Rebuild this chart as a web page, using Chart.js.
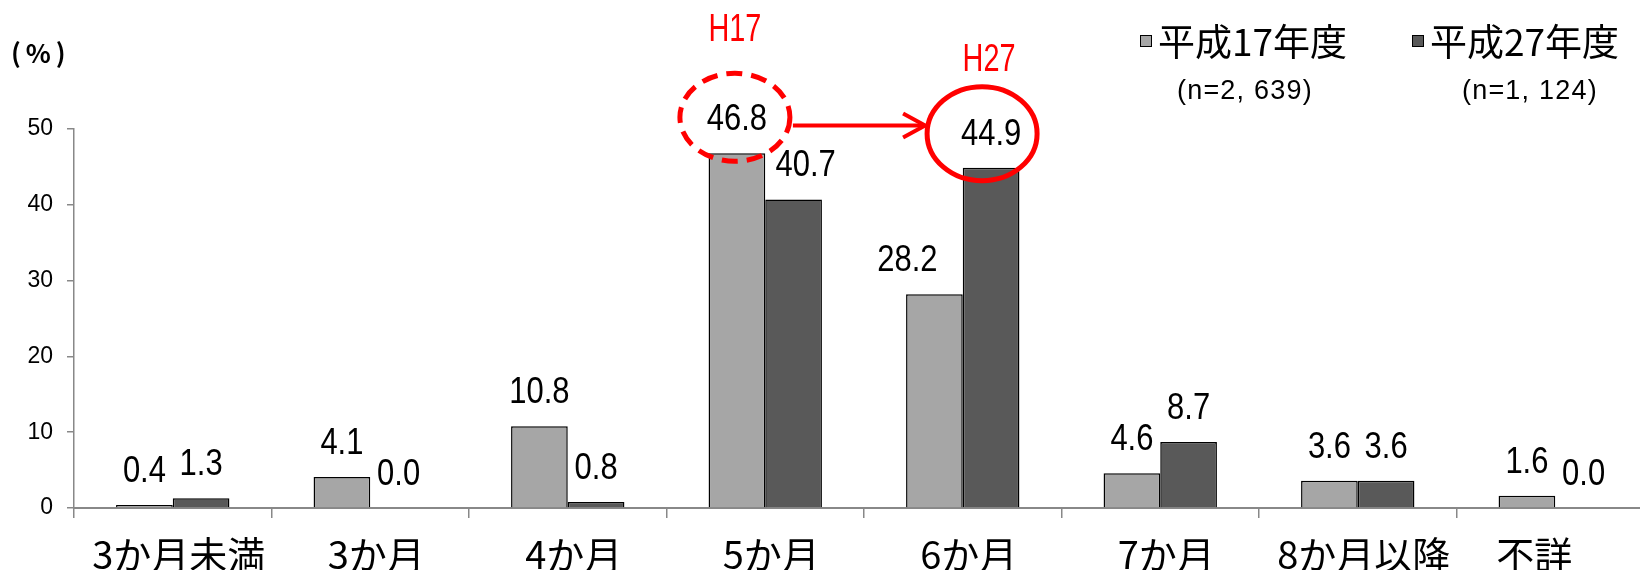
<!DOCTYPE html>
<html><head><meta charset="utf-8">
<script src="https://cdn.jsdelivr.net/npm/chart.js@4/dist/chart.umd.min.js"></script>
<style>
html,body{margin:0;padding:0;background:#fff;overflow:hidden;}
#wrap{width:1660px;height:570px;position:relative;}
</style></head><body>
<div id="wrap"><canvas id="c" width="1660" height="570"></canvas></div>
<script>
const categories = ['3か月未満','3か月','4か月','5か月','6か月','7か月','8か月以降','不詳'];
const seriesNames = ['平成17年度','平成27年度'];
const sampleSizes = ['(n=2, 639)','(n=1, 124)'];
const valuesH17 = [0.4, 4.1, 10.8, 46.8, 28.2, 4.6, 3.6, 1.6];
const valuesH27 = [1.3, 0.0, 0.8, 40.7, 44.9, 8.7, 3.6, 0.0];
const yTickValues = [0, 10, 20, 30, 40, 50];
const highlightFrom = {dataset: 0, index: 3, label: 'H17'};
const highlightTo = {dataset: 1, index: 4, label: 'H27'};
const colors = ['#A6A6A6', '#595959'];

// small manual nudges of some labels, as in the original
const dataLabelNudge = {'0-4': -27, '1-3': 12};
const catLabelNudge = {7: -21};

function txt(ctx, s, x, y, font, color, align, sx, ls) {
  ctx.save();
  ctx.font = font;
  ctx.fillStyle = color;
  ctx.textAlign = align || 'center';
  ctx.textBaseline = 'middle';
  if (ls) ctx.letterSpacing = ls;
  ctx.translate(x, y);
  ctx.scale(sx || 1, 1);
  ctx.fillText(s, 0, 0);
  ctx.restore();
}

const overlay = {
  id: 'overlay',
  afterDatasetsDraw(chart) {
    const ctx = chart.ctx;
    const bar = (d, i) => chart.getDatasetMeta(d).data[i];
    const xs = chart.scales.x;
    categories.forEach((c, i) => {
      const x = xs.getPixelForTick(i) + (catLabelNudge[i] !== undefined ? catLabelNudge[i] : 6);
      txt(ctx, c, x, xs.top + 47, '38px "Noto Sans CJK JP"', '#000', 'center', 1);
    });
    chart.data.datasets.forEach((ds, d) => {
      ds.data.forEach((v, i) => {
        const el = bar(d, i);
        const dx = dataLabelNudge[d + '-' + i] || 0;
        txt(ctx, v.toFixed(1), el.x + dx, el.y - 33, '36px "Liberation Sans"', '#000', 'center', 0.86);
      });
    });
    const a = bar(highlightFrom.dataset, highlightFrom.index);
    const b = bar(highlightTo.dataset, highlightTo.index);
    const e1 = {x: a.x - 2, y: a.y - 36, rx: 55, ry: 44};
    const e2 = {x: b.x - 9, y: b.y - 34, rx: 55, ry: 47};
    ctx.save();
    ctx.strokeStyle = '#FF0000';
    ctx.lineWidth = 5;
    ctx.setLineDash([16, 9]);
    ctx.beginPath();
    ctx.ellipse(e1.x, e1.y, e1.rx, e1.ry, 0, 0, Math.PI * 2);
    ctx.stroke();
    ctx.setLineDash([]);
    ctx.beginPath();
    ctx.ellipse(e2.x, e2.y, e2.rx, e2.ry, 0, 0, Math.PI * 2);
    ctx.stroke();
    const ay = (e1.y + e2.y) / 2;
    const x1 = e1.x + e1.rx + 3, x2 = e2.x - e2.rx - 2;
    ctx.lineWidth = 4;
    ctx.beginPath();
    ctx.moveTo(x1, ay); ctx.lineTo(x2 - 1, ay);
    ctx.stroke();
    ctx.beginPath();
    ctx.moveTo(x2 - 22, ay - 12); ctx.lineTo(x2, ay); ctx.lineTo(x2 - 22, ay + 12);
    ctx.stroke();
    ctx.restore();
    txt(ctx, highlightFrom.label, e1.x, e1.y - 87, '38px "Liberation Sans"', '#FF0000', 'center', 0.76);
    txt(ctx, highlightTo.label, e2.x + 7, e2.y - 73, '38px "Liberation Sans"', '#FF0000', 'center', 0.76);

    const legX = [1140, 1412];
    const nX = [1177, 1462];
    seriesNames.forEach((n, k) => {
      ctx.save();
      ctx.fillStyle = colors[k];
      ctx.fillRect(legX[k], 35, 12, 12);
      ctx.strokeStyle = '#000';
      ctx.lineWidth = 1;
      ctx.strokeRect(legX[k] + 0.5, 35.5, 11, 11);
      ctx.restore();
      txt(ctx, n, legX[k] + 18, 42, '37px "Noto Sans CJK JP"', '#000', 'left', 1);
      txt(ctx, sampleSizes[k], nX[k], 92, '27px "Liberation Sans"', '#000', 'left', 1, '1.2px');
    });
    ctx.save();
    ctx.font = 'bold 26px "Noto Sans CJK JP"';
    ctx.fillStyle = '#000';
    ctx.textBaseline = 'middle';
    ctx.textAlign = 'left';
    ctx.letterSpacing = '5px';
    ctx.fillText('(%)', 11, 53);
    ctx.restore();
  }
};

function build() {
  new Chart(document.getElementById('c'), {
    type: 'bar',
    data: {
      labels: categories,
      datasets: [
        {label: seriesNames[0], data: valuesH17, backgroundColor: colors[0], borderColor: '#000', borderWidth: 1.5, categoryPercentage: 0.574, barPercentage: 1},
        {label: seriesNames[1], data: valuesH27, backgroundColor: colors[1], borderColor: '#000', borderWidth: 1.5, categoryPercentage: 0.574, barPercentage: 1}
      ]
    },
    options: {
      responsive: false,
      animation: false,
      devicePixelRatio: 1,
      layout: {padding: {top: 129, left: 0, right: 6, bottom: 0}},
      plugins: {legend: {display: false}, tooltip: {enabled: false}},
      scales: {
        x: {
          grid: {display: true, drawOnChartArea: false, drawTicks: true, tickLength: 10, color: '#888', lineWidth: 1.5, offset: true},
          border: {display: true, color: '#888', width: 2},
          ticks: {display: false, autoSkip: false, maxRotation: 0},
          afterFit(s) { s.height = 62; }
        },
        y: {
          min: 0, max: 50,
          afterBuildTicks(s) { s.ticks = yTickValues.map(v => ({value: v})); },
          ticks: {font: {family: '"Liberation Sans"', size: 23}, color: '#000', padding: 14},
          grid: {drawOnChartArea: false, tickLength: 7, color: '#888', lineWidth: 1.5},
          border: {color: '#888', width: 1.5},
          afterFit(s) { s.width = 74; }
        }
      }
    },
    plugins: [overlay]
  });
}
Promise.all([
  document.fonts.load('36px "Noto Sans CJK JP"'),
  document.fonts.load('bold 26px "Noto Sans CJK JP"'),
  document.fonts.load('34px "Liberation Sans"')
]).then(build, build);
</script>
</body></html>
